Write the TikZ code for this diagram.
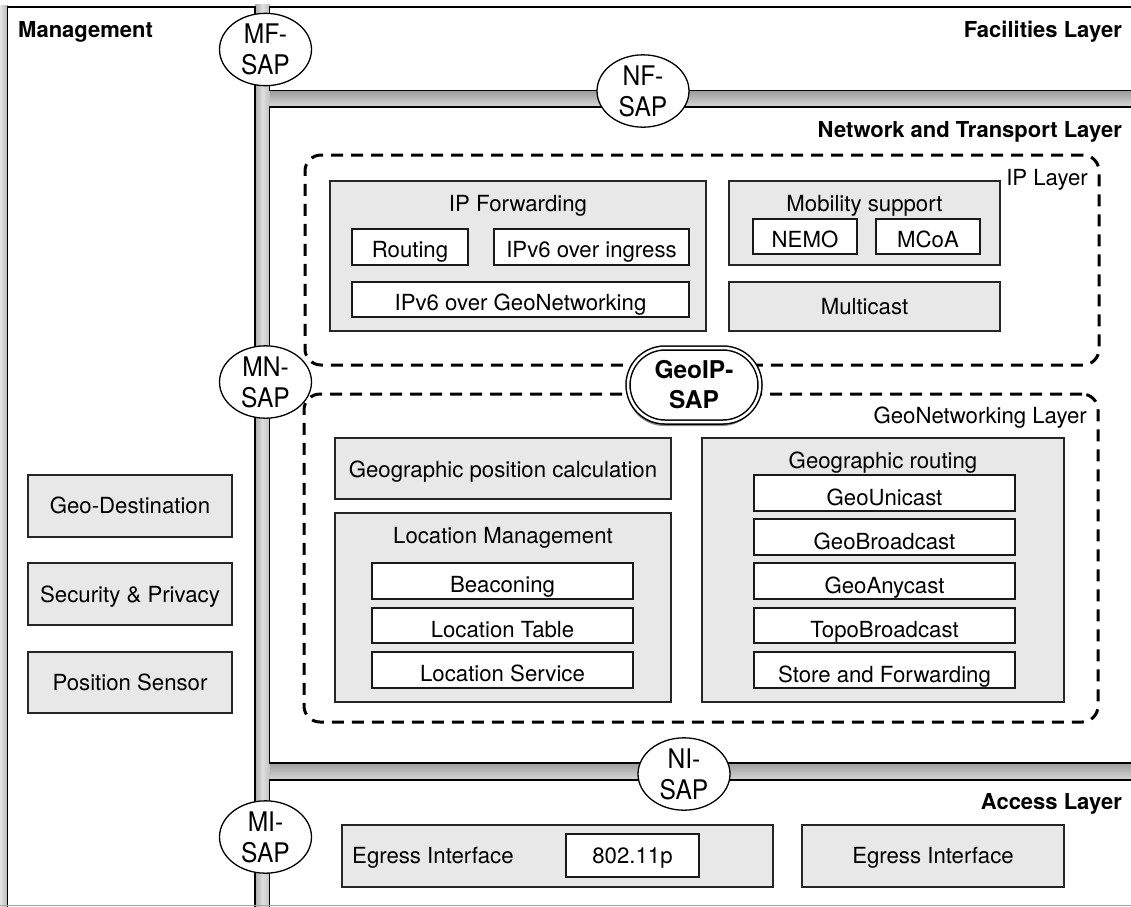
\documentclass[tikz,border=0pt]{standalone}
\usepackage{fontspec}
\setmainfont{TeX Gyre Heros}
\newfontfamily\sapfont{TeX Gyre Heros}[FakeStretch=0.91]
\usetikzlibrary{fit,shapes.geometric,shapes.misc,shadows}
\definecolor{boxgray}{HTML}{E8E8E8}
\begin{document}
\begin{tikzpicture}[x=1pt,y=-1pt,
  txt/.style={font=\fontsize{22.2}{26}\selectfont, inner sep=0pt, anchor=base},
  ttl/.style={font=\bfseries\fontsize{22}{26}\selectfont, inner sep=0pt},
  layerbox/.style={draw=black, line width=1.8pt, fill=white, inner sep=0pt},
  graybox/.style={draw=black!85, line width=1.5pt, fill=boxgray, inner sep=0pt},
  whitebox/.style={draw=black!90, line width=1.5pt, fill=white, inner sep=0pt},
  dashbox/.style={draw=black, line width=3pt, dash pattern=on 12pt off 8pt, rounded corners=16pt, inner sep=0pt},
  sap/.style={ellipse, draw=black, line width=1.3pt, fill=white, minimum width=92pt, minimum height=68pt, inner sep=0pt, align=center, font=\sapfont\fontsize{27}{31}\selectfont},
  sapbig/.style={rounded rectangle, draw=black, line width=1.5pt, double=white, double distance=2.5pt, fill=white, minimum width=132pt, minimum height=74pt, inner sep=0pt, align=center, font=\bfseries\fontsize{24.5}{30}\selectfont, drop shadow={shadow xshift=-1pt, shadow yshift=-4pt, opacity=0.45, fill=black}},
]
\useasboundingbox (0,0) rectangle (1131,906);
\clip (0,0) rectangle (1131,906);
\fill[white] (0,0) rectangle (1131,906);
% grey gaps between the layer boxes
\shade[left color=gray!20, right color=gray!60] (0,5) rectangle (8,906);
\shade[left color=gray!65, right color=gray!50, middle color=gray!25] (255,4) rectangle (270,906);
\shade[top color=gray!80, bottom color=gray!30] (270,90) rectangle (1131,107);
\shade[top color=gray!80, bottom color=gray!30] (270,762) rectangle (1131,780);

% layer boxes
\node[layerbox, fit={(7.5,7)(255,930)}] (mgmt) {};
\node[layerbox, fit={(269.5,7)(1145,90.5)}] (fac) {};
\node[layerbox, fit={(269.5,107)(1145,763)}] (nt) {};
\node[layerbox, fit={(269.5,780)(1145,930)}] (acc) {};

\node[ttl, anchor=base west] (mgmtT) at (18,37) {Management};
\node[ttl, anchor=base east] (facT) at (1122,37) {Facilities Layer};
\node[ttl, anchor=base east] (ntT) at (1122,137) {Network and Transport Layer};
\node[ttl, anchor=base east] (accT) at (1122,809) {Access Layer};

% management entities
\node[graybox, fit={(28,475)(232,537)}] (gdest) {};
\node[txt] (gdestT) at (130,513) {Geo-Destination};
\node[graybox, fit={(28,563)(232,625)}] (secp) {};
\node[txt] (secpT) at (130,602) {Security \& Privacy};
\node[graybox, fit={(28,652)(232,713)}] (psens) {};
\node[txt] (psensT) at (130,690) {Position Sensor};

% IP layer
\node[dashbox, fit={(305,155)(1099,365)}] (ipl) {};
\node[txt, anchor=base east] (iplT) at (1088,185) {IP Layer};

\node[graybox, fit={(330,181)(706,331)}] (ipf) {};
\node[txt] (ipfT) at (518,211) {IP Forwarding};
\node[whitebox, fit={(352,229)(468,265)}] (rout) {};
\node[txt] (routT) at (410,257) {Routing};
\node[whitebox, fit={(494,229)(689,265)}] (ingr) {};
\node[txt] (ingrT) at (591.5,257) {IPv6 over ingress};
\node[whitebox, fit={(352,282)(689,317)}] (geon) {};
\node[txt] (geonT) at (520.5,310) {IPv6 over GeoNetworking};

\node[graybox, fit={(729,181)(1000,265)}] (mob) {};
\node[txt] (mobT) at (864.5,211) {Mobility support};
\node[whitebox, fit={(753,219)(857,254)}] (nemo) {};
\node[txt] (nemoT) at (805,247.5) {NEMO};
\node[whitebox, fit={(876,219)(980,254)}] (mcoa) {};
\node[txt] (mcoaT) at (928,247.5) {MCoA};
\node[graybox, fit={(729,282)(1000,331)}] (mcast) {};
\node[txt] (mcastT) at (864.5,314.5) {Multicast};

% GeoNetworking layer
\node[dashbox, fit={(304,394)(1098,722)}] (gnl) {};
\node[txt, anchor=base east] (gnlT) at (1087,423) {GeoNetworking Layer};

\node[graybox, fit={(335,438)(671,499)}] (gpc) {};
\node[txt] (gpcT) at (503,477) {Geographic position calculation};
\node[graybox, fit={(335,513)(671,702)}] (lm) {};
\node[txt] (lmT) at (503,543) {Location Management};
\node[whitebox, fit={(372,563)(633,599)}] (beac) {};
\node[txt] (beacT) at (502.5,592.5) {Beaconing};
\node[whitebox, fit={(372,608)(633,643)}] (ltab) {};
\node[txt] (ltabT) at (502.5,637) {Location Table};
\node[whitebox, fit={(372,652)(633,688)}] (lserv) {};
\node[txt] (lservT) at (502.5,681.5) {Location Service};

\node[graybox, fit={(702,438)(1064,702)}] (gr) {};
\node[txt] (grT) at (883,468) {Geographic routing};
\node[whitebox, fit={(754,475)(1015,511)}] (guni) {};
\node[txt] (guniT) at (884.5,505) {GeoUnicast};
\node[whitebox, fit={(754,519)(1015,555)}] (gbro) {};
\node[txt] (gbroT) at (884.5,549) {GeoBroadcast};
\node[whitebox, fit={(754,563)(1015,599)}] (gany) {};
\node[txt] (ganyT) at (884.5,593) {GeoAnycast};
\node[whitebox, fit={(754,608)(1015,643)}] (topo) {};
\node[txt] (topoT) at (884.5,637) {TopoBroadcast};
\node[whitebox, fit={(754,652)(1015,688)}] (sfw) {};
\node[txt] (sfwT) at (884.5,682) {Store and Forwarding};

% access layer
\node[graybox, fit={(342,825)(773,887)}] (eg1) {};
\node[txt, anchor=base west] (eg1T) at (352,863) {Egress Interface};
\node[whitebox, fit={(566,834)(699,877)}] (p80211) {};
\node[txt] (p80211T) at (632.5,863) {802.11p};
\node[graybox, fit={(802,825)(1064,887)}] (eg2) {};
\node[txt] (eg2T) at (933,863) {Egress Interface};

% service access points
\node[sap] (mfsap) at (265.5,49.5) {MF-\\SAP};
\node[sap] (nfsap) at (643,91) {NF-\\SAP};
\node[sap] (mnsap) at (265.5,382) {MN-\\SAP};
\node[sap] (nisap) at (684,774) {NI-\\SAP};
\node[sap] (misap) at (265.5,837) {MI-\\SAP};
\node[sapbig] (geoip) at (694,385) {GeoIP-\\SAP};

\draw[gray!70, line width=1pt] (0,905.5) -- (1131,905.5);
\end{tikzpicture}
\end{document}
